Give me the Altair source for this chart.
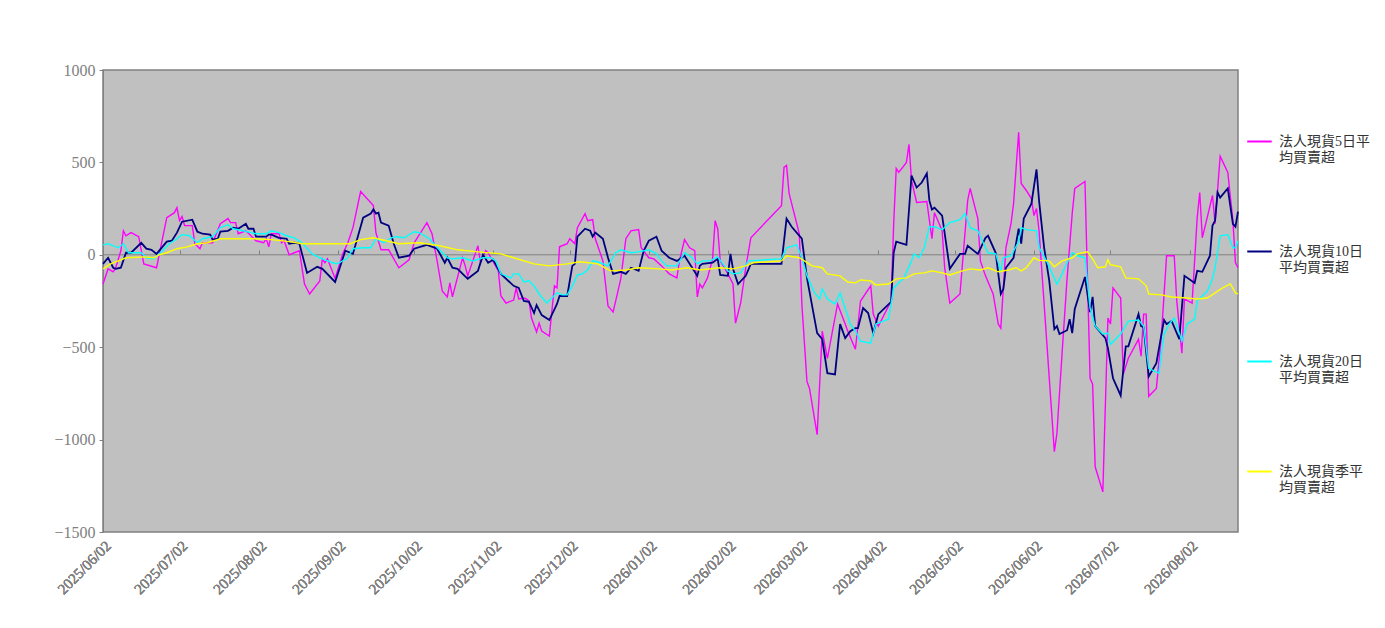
import altair as alt
import pandas as pd

BASE_DATE = "2025-06-02"
END_DATE = "2026-08-21"

series_names = [
    "法人現貨5日平均買賣超",
    "法人現貨10日平均買賣超",
    "法人現貨20日平均買賣超",
    "法人現貨季平均買賣超",
]
series_colors = ["#FF00FF", "#000080", "#00FFFF", "#FFFF00"]
series_widths = [1.4, 1.8, 1.4, 1.4]

tick_dates = [
    "2025-06-02", "2025-07-02", "2025-08-02", "2025-09-02", "2025-10-02",
    "2025-11-02", "2025-12-02", "2026-01-02", "2026-02-02", "2026-03-02",
    "2026-04-02", "2026-05-02", "2026-06-02", "2026-07-02", "2026-08-02",
]
y_ticks = [-1500, -1000, -500, 0, 500, 1000]

# days since BASE_DATE, and values
ma5_day = [0, 2, 4, 5, 7, 8, 9, 11, 14, 16, 21, 25, 28, 29, 30, 31, 32, 35, 36, 38,
           39, 43, 46, 49, 50, 52, 53, 56, 58, 60, 63, 64, 65, 66, 69, 70, 71, 73, 75, 77,
           79, 81, 85, 86, 87, 88, 91, 94, 96, 98, 101, 106, 107, 109, 112, 116, 120, 122, 127, 129,
           131, 133, 135, 136, 137, 141, 142, 143, 147, 148, 150, 151, 155, 156, 158, 161, 162, 163, 165, 166,
           167, 168, 170, 171, 172, 175, 177, 178, 179, 182, 183, 185, 186, 189, 190, 192, 193, 196, 198, 200,
           203, 205, 207, 210, 211, 214, 216, 219, 222, 225, 226, 228, 230, 232, 233, 234, 235, 237, 239, 240,
           241, 242, 245, 247, 248, 250, 252, 254, 266, 267, 268, 269, 273, 274, 276, 277, 280, 282, 284, 288,
           291, 292, 295, 297, 301, 302, 304, 309, 310, 311, 312, 315, 316, 317, 319, 323, 325, 326, 329, 330,
           332, 336, 339, 340, 343, 344, 346, 349, 351, 352, 354, 356, 357, 359, 360, 362, 364, 365, 366, 367,
           373, 374, 376, 378, 380, 381, 385, 387, 388, 389, 392, 394, 395, 396, 399, 400, 402, 406, 407, 408,
           409, 410, 413, 415, 417, 420, 421, 423, 424, 427, 429, 430, 431, 435, 436, 438, 441, 443, 444, 445]
ma5_val = [-158, -76, -92, -70, 22, 130, 103, 120, 98, -49, -70, 201, 228, 255, 185, 207, 158, 158, 60, 33,
           65, 65, 168, 196, 174, 174, 114, 130, 103, 76, 65, 87, 43, 114, 114, 65, 76, 0, 11, 22,
           -158, -212, -141, -22, -43, -22, -128, 5, 65, 147, 342, 266, 120, 27, 27, -70, -27, 65, 174, 114,
           -33, -196, -228, -152, -228, -16, -60, -114, 49, -43, 22, 11, -87, -223, -261, -245, -179, -239, -234, -239,
           -250, -342, -418, -370, -413, -440, -168, -179, 43, 60, 87, 60, 147, 223, 185, 190, 87, -33, -277, -310,
           -130, 87, 130, 136, 38, -16, -22, -60, -103, -125, -33, 82, 38, 22, -228, -158, -179, -125, -22, 185,
           141, -33, -103, -158, -370, -261, -70, 92, 266, 473, 484, 332, 114, -266, -685, -723, -973, -413, -560, -266,
           -375, -413, -511, -250, -168, -321, -386, -250, 168, 467, 446, 500, 598, 402, 283, 288, 87, 228, 130, -70,
           -261, -212, 293, 359, 196, -33, -114, -212, -375, -397, 38, 168, 277, 663, 386, 348, 304, 212, 250, 130,
           -1065, -967, -538, -125, 223, 359, 397, -668, -700, -1147, -1283, -342, -375, -179, -234, -647, -560, -457, -549, -321,
           -321, -766, -723, -429, -5, -5, -250, -533, -239, -261, 201, 337, 92, 321, 168, 533, 446, 185, -43, -70]

ma10_day = [0, 2, 4, 5, 7, 9, 11, 15, 17, 19, 21, 25, 27, 29, 31, 35, 37, 39, 42, 43,
            45, 46, 49, 51, 53, 56, 57, 59, 60, 64, 65, 66, 69, 72, 73, 75, 77, 80, 84, 86,
            91, 95, 98, 102, 105, 106, 107, 108, 109, 112, 114, 116, 120, 122, 127, 131, 134, 135, 137, 139,
            143, 147, 149, 151, 153, 156, 161, 163, 165, 167, 169, 170, 172, 175, 178, 179, 182, 184, 185, 186,
            189, 191, 192, 193, 196, 198, 200, 203, 205, 207, 210, 212, 214, 217, 219, 222, 225, 228, 231, 233,
            234, 235, 239, 241, 242, 245, 246, 247, 249, 252, 254, 266, 268, 270, 274, 276, 280, 282, 284, 287,
            289, 291, 293, 295, 296, 298, 300, 302, 304, 309, 310, 311, 315, 317, 319, 321, 323, 324, 325, 326,
            329, 332, 336, 338, 339, 343, 344, 346, 347, 350, 352, 353, 354, 357, 359, 360, 361, 364, 366, 367,
            369, 371, 373, 374, 375, 378, 379, 380, 381, 385, 387, 388, 389, 393, 394, 396, 399, 401, 402, 406,
            407, 408, 410, 413, 415, 416, 417, 419, 422, 424, 428, 429, 431, 434, 435, 436, 437, 438, 441, 443,
            444, 445]
ma10_val = [-49, -16, -70, -76, -70, 11, 11, 65, 33, 27, 5, 71, 76, 120, 179, 190, 125, 114, 109, 82,
            87, 125, 130, 147, 141, 168, 141, 141, 98, 98, 109, 109, 92, 87, 60, 65, 60, -98, -65, -76,
            -147, 22, 5, 201, 223, 245, 223, 228, 174, 158, 60, -16, -5, 33, 54, 33, -43, -16, -70, -76,
            -130, -87, 0, -43, -27, -103, -168, -179, -250, -255, -315, -272, -326, -353, -266, -223, -223, -60, -49, 98,
            141, 130, 98, 120, 87, -16, -103, -92, -103, -70, -87, 22, 76, 98, 22, -16, -33, -5, -70, -114,
            -60, -49, -43, -22, -109, -114, 5, -76, -158, -114, -49, -49, 196, 152, 87, -125, -424, -457, -641, -647,
            -375, -451, -413, -397, -397, -288, -315, -424, -321, -255, 11, 71, 54, 429, 364, 391, 440, 293, 245, 255,
            212, -76, 5, 5, 49, 5, 33, 92, 103, 11, -212, -185, -70, -16, 141, 60, 196, 277, 462, 293,
            38, -141, -402, -386, -429, -408, -348, -424, -293, -120, -310, -228, -386, -451, -505, -668, -761, -495, -495, -321,
            -386, -391, -658, -587, -429, -353, -375, -359, -457, -114, -152, -87, -92, -5, 158, 185, 337, 310, 359, 168,
            152, 234]

ma20_day = [0, 2, 6, 8, 10, 15, 17, 20, 22, 26, 29, 31, 34, 37, 39, 43, 46, 49, 51, 55,
            58, 60, 64, 66, 69, 72, 75, 78, 82, 85, 87, 90, 92, 96, 98, 102, 105, 107, 110, 113,
            115, 118, 122, 124, 128, 131, 135, 137, 141, 145, 149, 152, 154, 156, 160, 161, 163, 165, 167, 169,
            171, 174, 176, 178, 180, 182, 184, 186, 188, 190, 192, 195, 198, 201, 203, 207, 210, 214, 217, 219,
            221, 225, 228, 231, 233, 235, 238, 241, 243, 245, 247, 250, 253, 266, 268, 272, 274, 276, 279, 281,
            282, 284, 287, 289, 292, 293, 295, 297, 301, 303, 308, 310, 314, 317, 318, 320, 322, 324, 326, 329,
            332, 336, 338, 340, 343, 346, 347, 350, 352, 353, 356, 359, 360, 362, 366, 367, 370, 374, 376, 378,
            380, 382, 385, 387, 389, 392, 394, 395, 399, 402, 406, 408, 410, 414, 416, 418, 420, 423, 425, 428,
            429, 433, 435, 436, 438, 441, 443, 444, 445]
ma20_val = [54, 60, 38, 60, 11, 11, -16, -22, 5, 60, 87, 109, 103, 65, 87, 98, 147, 163, 141, 130,
            120, 114, 114, 130, 120, 103, 92, 65, 5, -16, -27, -43, -49, -16, 33, 38, 38, 87, 65, 92,
            98, 92, 125, 120, 87, 40, -16, -22, -16, -33, -16, -16, -33, -103, -125, -103, -103, -147, -141, -168,
            -212, -261, -234, -206, -217, -217, -168, -109, -103, -82, -33, -43, -60, 11, 27, 11, 16, 27, 5, -33,
            -60, -60, 11, -16, -49, -33, -33, -11, -49, -87, -103, -98, -33, -22, 38, 54, -16, -114, -206, -239,
            -185, -239, -266, -206, -331, -375, -413, -467, -478, -375, -348, -179, -125, -33, 5, -16, 38, 152, 152, 136,
            174, 190, 223, 147, 130, 38, 11, 5, -87, -16, -5, 71, 147, 136, 130, 40, -35, -158, -103, -43,
            11, -5, -16, -288, -386, -429, -424, -484, -429, -359, -353, -386, -614, -641, -429, -375, -342, -467, -375, -348,
            -250, -196, -130, -70, 103, 109, 38, 38, 76]

maq_day = [0, 3, 7, 9, 16, 20, 22, 25, 29, 33, 37, 41, 46, 51, 59, 66, 73, 78, 85, 90,
           97, 101, 106, 111, 116, 124, 132, 139, 147, 156, 161, 169, 175, 182, 187, 194, 199, 205, 210, 218,
           223, 229, 234, 242, 247, 252, 255, 266, 268, 273, 278, 282, 284, 289, 292, 295, 297, 301, 303, 308,
           311, 315, 318, 322, 325, 329, 332, 337, 340, 344, 347, 351, 355, 358, 360, 362, 365, 367, 371, 373,
           376, 380, 382, 386, 388, 390, 393, 394, 395, 399, 401, 406, 409, 410, 415, 419, 425, 429, 433, 436,
           439, 442, 444, 445]
maq_val = [-76, -49, -27, -16, -11, -16, 0, 11, 33, 43, 60, 65, 87, 87, 87, 82, 71, 60, 60, 60,
           60, 82, 92, 76, 60, 65, 49, 27, 16, 5, -16, -49, -60, -49, -38, -49, -87, -82, -70, -76,
           -82, -70, -82, -70, -76, -60, -43, -33, -5, -16, -60, -70, -103, -114, -147, -152, -136, -141, -163, -158,
           -130, -125, -103, -98, -87, -98, -109, -87, -76, -82, -70, -92, -82, -70, -87, -70, -16, -30, -33, -65,
           -33, -16, 5, 16, -22, -70, -65, -27, -54, -65, -125, -130, -168, -212, -217, -228, -234, -239, -234, -206,
           -179, -158, -206, -212]

series_days = [ma5_day, ma10_day, ma20_day, maq_day]
series_vals = [ma5_val, ma10_val, ma20_val, maq_val]

base = pd.Timestamp(BASE_DATE)
rows = []
for name, days, vals in zip(series_names, series_days, series_vals):
    for d, v in zip(days, vals):
        rows.append({
            "date": (base + pd.Timedelta(days=d)).strftime("%Y-%m-%dT00:00:00"),
            "value": v,
            "series": name,
        })
df = pd.DataFrame(rows)


def dt(s):
    t = pd.Timestamp(s)
    return alt.DateTime(year=t.year, month=t.month, date=t.day)


x_scale = alt.Scale(domain=[dt(BASE_DATE), dt(END_DATE)], nice=False)
y_scale = alt.Scale(domain=[-1500, 1000], nice=False)

AXIS_GRAY = "#808080"
SERIF = "Liberation Serif"

bottom_axis = alt.Axis(
    orient="bottom", values=[dt(s) for s in tick_dates], format="%Y/%m/%d", labelAngle=-45,
    labelAlign="right", labelBaseline="top", labelColor=AXIS_GRAY, labelFont=SERIF,
    labelFontSize=15, labelPadding=6, ticks=False, domain=False, grid=False,
    title=None, labelOverlap=False, labelFlush=False,
)
zero_axis = alt.Axis(
    orient="top", offset=-184, values=[dt(s) for s in tick_dates], labels=False,
    ticks=True, tickSize=4, tickColor=AXIS_GRAY, domain=False, grid=False, title=None,
)
y_axis = alt.Axis(
    values=y_ticks, format="d", grid=False, labelColor=AXIS_GRAY, labelFont=SERIF,
    labelFontSize=16, tickColor=AXIS_GRAY, tickSize=4, domainColor=AXIS_GRAY, domain=True,
    title=None, labelPadding=4,
)

legend = alt.Legend(
    title=None, orient="none", legendX=1143, legendY=58, direction="vertical",
    symbolType="stroke", symbolSize=600, symbolStrokeWidth=2, labelFontSize=14,
    labelFont="Liberation Serif, Noto Sans CJK TC", labelColor="#333333", labelLimit=0,
    labelOffset=6, rowPadding=73, padding=0,
    labelExpr=("indexof(datum.label, '日') > 0 ? "
               "[substring(datum.label, 0, 7), substring(datum.label, 7)] : "
               "[substring(datum.label, 0, 6), substring(datum.label, 6)]"),
)
color = alt.Color("series:N", scale=alt.Scale(domain=series_names, range=series_colors),
                  legend=legend, sort=series_names)

zero_rule = alt.Chart(pd.DataFrame({"v": [0]})).mark_rule(color=AXIS_GRAY, strokeWidth=1).encode(
    y=alt.Y("v:Q", scale=y_scale, axis=y_axis)
)

tick_layer = alt.Chart(df).mark_line(opacity=0).encode(
    x=alt.X("date:T", scale=x_scale, axis=zero_axis),
    y=alt.Y("value:Q", scale=y_scale, axis=y_axis),
    detail="series:N",
)

line_layers = []
for name, w in zip(series_names, series_widths):
    line_layers.append(
        alt.Chart(df).transform_filter(alt.datum.series == name).mark_line(strokeWidth=w).encode(
            x=alt.X("date:T", scale=x_scale, axis=bottom_axis),
            y=alt.Y("value:Q", scale=y_scale, axis=y_axis),
            color=color,
        )
    )

chart = alt.layer(zero_rule, tick_layer, *line_layers).resolve_axis(x="independent").properties(
    width=1135, height=462,
    autosize=alt.AutoSizeParams(type="none"),
    padding={"left": 95, "top": 62, "right": 139, "bottom": 88},
    background="white",
).configure_view(fill="#C0C0C0", stroke=AXIS_GRAY, strokeWidth=1.5)

chart.save("out.html", embed_options={"renderer": "svg", "actions": False})
